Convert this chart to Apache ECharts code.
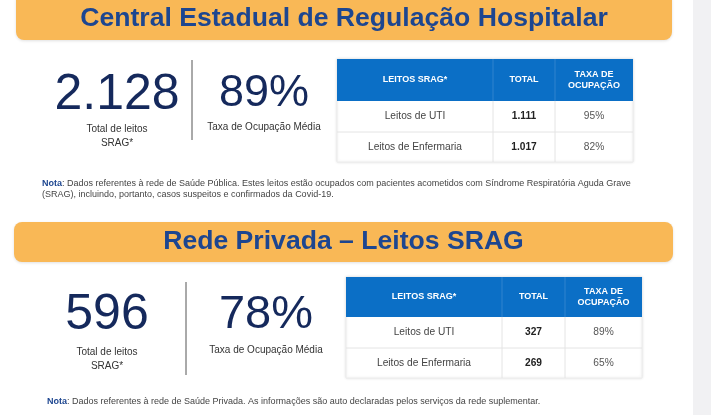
<!DOCTYPE html>
<html>
<head>
<meta charset="utf-8">
<script src="https://cdn.jsdelivr.net/npm/echarts@6/dist/echarts.min.js"></script>
<style>
  html, body { margin: 0; padding: 0; background: #fff; }
  #main { width: 711px; height: 415px; }
</style>
</head>
<body>
<div id="main"></div>
<script>
// Títulos das faixas
var titulos = ['Central Estadual de Regulação Hospitalar', 'Rede Privada – Leitos SRAG'];
// Total de leitos SRAG
var totalLeitos = ['2.128', '596'];
// Taxa de ocupação média
var taxaMedia = ['89%', '78%'];
// Cabeçalho da tabela
var cabecalho = ['LEITOS SRAG*', 'TOTAL', 'TAXA DE\nOCUPAÇÃO'];
// Linhas da tabela
var linhas = ['Leitos de UTI', 'Leitos de Enfermaria'];
// Total por linha (público, privado)
var totalPublico = ['1.111', '1.017'];
var totalPrivado = ['327', '269'];
// Taxa por linha (público, privado)
var taxaPublico = ['95%', '82%'];
var taxaPrivado = ['89%', '65%'];
// Notas de rodapé
var notas = [
    'Dados referentes à rede de Saúde Pública. Estes leitos estão ocupados com pacientes acometidos com Síndrome Respiratória Aguda Grave\n(SRAG), incluindo, portanto, casos suspeitos e confirmados da Covid-19.',
    'Dados referentes à rede de Saúde Privada. As informações são auto declaradas pelos serviços da rede suplementar.'
];

var totais = [totalPublico, totalPrivado];
var taxas = [taxaPublico, taxaPrivado];

var FONT = 'Arial, "Liberation Sans", sans-serif';

// posições de cada bloco
var layout = [
    { banner: [16, -8, 656, 48], titleY: 19, bigX: 117, bigY: 95, divX: 192, divY: [60, 140],
      taxaX: 264, taxaY: 94, taxaSize: 45, labelY: 129, taxaLabelY: 127,
      table: [337, 59], colW: [156, 62, 78], headH: 42, rowH: [31, 30], noteX: 42, noteY: 189 },
    { banner: [14, 222, 659, 40], titleY: 242, bigX: 107, bigY: 315, divX: 186, divY: [282, 375],
      taxaX: 266, taxaY: 315, taxaSize: 47, labelY: 352, taxaLabelY: 350,
      table: [346, 277], colW: [156, 63, 77], headH: 40, rowH: [31, 30], noteX: 47, noteY: 402 }
];

function texto(x, y, t, size, color, opts) {
    opts = opts || {};
    return {
        type: 'text',
        silent: true,
        style: {
            x: x, y: y, text: t,
            fill: color,
            fontSize: size,
            fontWeight: opts.weight || 'normal',
            fontFamily: FONT,
            align: opts.align || 'center',
            verticalAlign: 'middle',
            lineHeight: opts.lineHeight || size * 1.2,
            rich: opts.rich
        }
    };
}

function bloco(i) {
    var L = layout[i];
    var els = [];
    // faixa laranja
    els.push({
        type: 'rect', silent: true,
        shape: { x: L.banner[0], y: L.banner[1], width: L.banner[2], height: L.banner[3], r: 8 },
        style: { fill: '#F9B856', shadowBlur: 3, shadowColor: 'rgba(0,0,0,0.12)', shadowOffsetY: 1 }
    });
    els.push(texto(L.banner[0] + L.banner[2] / 2, L.titleY, titulos[i], 26.6, '#1D4690', { weight: 'bold' }));

    // total
    els.push(texto(L.bigX, L.bigY, totalLeitos[i], 50, '#15295C'));
    els.push(texto(L.bigX, L.labelY + 7, 'Total de leitos\nSRAG*', 10, '#333', { lineHeight: 13.5 }));

    // divisor
    els.push({
        type: 'line', silent: true,
        shape: { x1: L.divX, y1: L.divY[0], x2: L.divX, y2: L.divY[1] },
        style: { stroke: '#555', lineWidth: 1 }
    });

    // taxa média
    els.push(texto(L.taxaX, L.taxaY, taxaMedia[i], L.taxaSize, '#15295C'));
    els.push(texto(L.taxaX, L.taxaLabelY, 'Taxa de Ocupação Média', 10, '#333'));

    // tabela
    var tx = L.table[0], ty = L.table[1];
    var tw = L.colW[0] + L.colW[1] + L.colW[2];
    var th = L.headH + L.rowH[0] + L.rowH[1];
    els.push({
        type: 'rect', silent: true,
        shape: { x: tx, y: ty, width: tw, height: th },
        style: { fill: '#fff', stroke: '#ececec', lineWidth: 1, shadowBlur: 3, shadowColor: 'rgba(0,0,0,0.10)' }
    });
    els.push({
        type: 'rect', silent: true,
        shape: { x: tx, y: ty, width: tw, height: L.headH },
        style: { fill: '#0B6FC6' }
    });
    var cx = [tx, tx + L.colW[0], tx + L.colW[0] + L.colW[1], tx + tw];
    for (var c = 1; c < 3; c++) {
        els.push({
            type: 'line', silent: true,
            shape: { x1: cx[c], y1: ty, x2: cx[c], y2: ty + L.headH },
            style: { stroke: 'rgba(255,255,255,0.15)', lineWidth: 1 }
        });
        els.push({
            type: 'line', silent: true,
            shape: { x1: cx[c], y1: ty + L.headH, x2: cx[c], y2: ty + th },
            style: { stroke: '#e4e4e4', lineWidth: 1 }
        });
    }
    els.push({
        type: 'line', silent: true,
        shape: { x1: tx, y1: ty + L.headH + L.rowH[0], x2: tx + tw, y2: ty + L.headH + L.rowH[0] },
        style: { stroke: '#e4e4e4', lineWidth: 1 }
    });
    for (var h = 0; h < cabecalho.length; h++) {
        els.push(texto((cx[h] + cx[h + 1]) / 2, ty + L.headH / 2, cabecalho[h], 9, '#fff', { weight: 'bold', lineHeight: 11 }));
    }
    var ry = ty + L.headH;
    for (var r = 0; r < linhas.length; r++) {
        var my = ry + L.rowH[r] / 2;
        els.push(texto((cx[0] + cx[1]) / 2, my, linhas[r], 10.2, '#444'));
        els.push(texto((cx[1] + cx[2]) / 2, my, totais[i][r], 10.2, '#222', { weight: 'bold' }));
        els.push(texto((cx[2] + cx[3]) / 2, my, taxas[i][r], 10.2, '#555'));
        ry += L.rowH[r];
    }

    // nota
    els.push(texto(L.noteX, L.noteY, '{b|Nota}: ' + notas[i], 9, '#444', {
        align: 'left', lineHeight: 11,
        rich: { b: { fontWeight: 'bold', fill: '#1D4690', fontSize: 9, fontFamily: FONT } }
    }));
    return els;
}

var chart = echarts.init(document.getElementById('main'), null, { renderer: 'canvas' });
var graphics = [{
    type: 'rect', silent: true,
    shape: { x: 693, y: 0, width: 18, height: 415 },
    style: { fill: '#F1F1F3' }
}].concat(bloco(0), bloco(1));

var option = {
    backgroundColor: '#fff',
    animation: false,
    graphic: { elements: graphics }
};
chart.setOption(option);
</script>
</body>
</html>
